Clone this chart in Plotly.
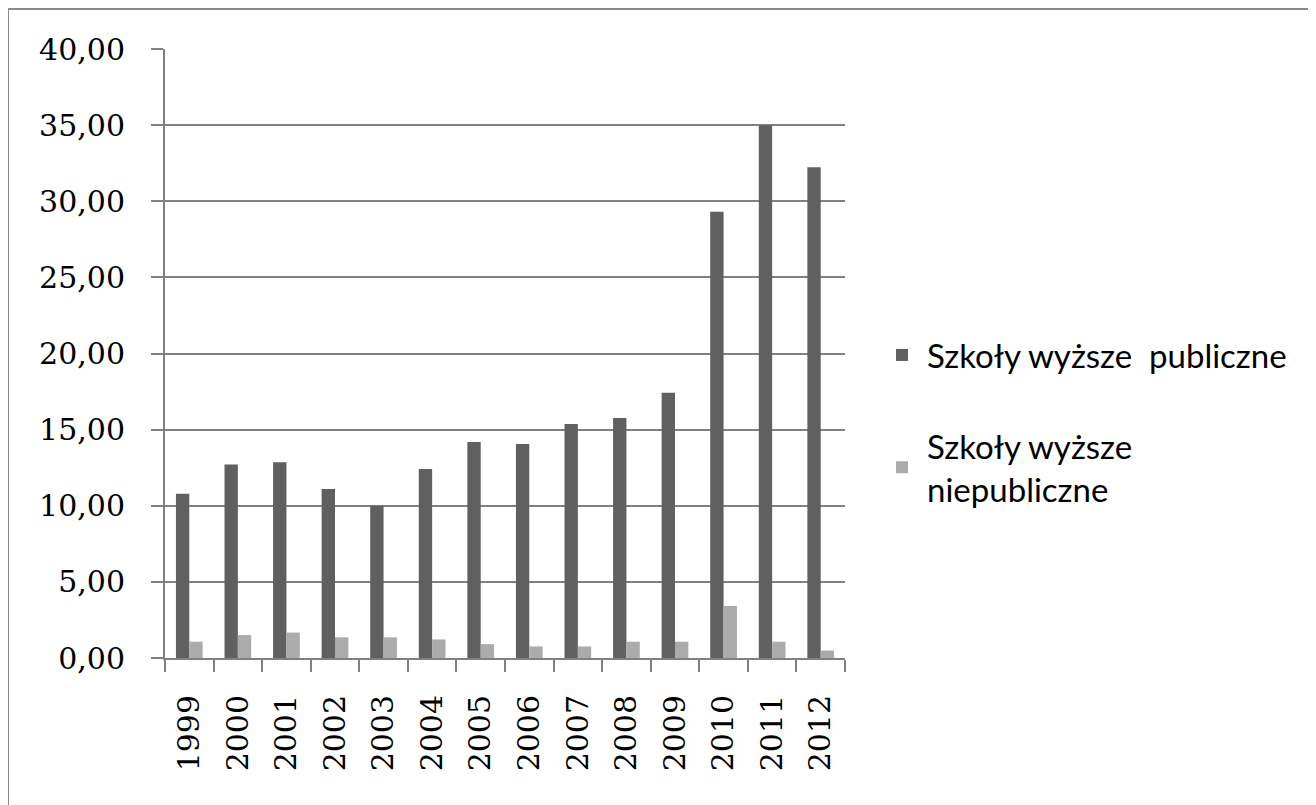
import plotly.graph_objects as go

years = ["1999", "2000", "2001", "2002", "2003", "2004", "2005", "2006",
         "2007", "2008", "2009", "2010", "2011", "2012"]
publiczne = [10.79, 12.71, 12.86, 11.10, 10.00, 12.42, 14.18, 14.05,
             15.37, 15.77, 17.42, 29.31, 35.00, 32.23]
niepubliczne = [1.07, 1.51, 1.67, 1.36, 1.36, 1.22, 0.91, 0.76,
                0.76, 1.07, 1.07, 3.42, 1.07, 0.49]
y_ticks = [0, 5, 10, 15, 20, 25, 30, 35, 40]

W, H = 1316, 805
OFF = 8  # page body margin
L, R, T, B = 165 - OFF, 845 - OFF, 49 - OFF, 658 - OFF
pw, ph = R - L, B - T

fig = go.Figure()
fig.add_trace(go.Bar(x=years, y=publiczne, name="Szkoły wyższe  publiczne",
                     marker=dict(color="#606060", line=dict(width=0)),
                     legendgroup="a"))
fig.add_trace(go.Bar(x=years, y=niepubliczne, name="Szkoły wyższe<br>niepubliczne",
                     marker=dict(color="#ababab", line=dict(width=0)),
                     legendgroup="b"))

fig.update_layout(
    width=W, height=H,
    margin=dict(l=L, r=W - R, t=T, b=H - B, pad=0),
    paper_bgcolor="white", plot_bgcolor="white",
    barmode="group", bargap=0.45, bargroupgap=0,
    separators=", ",
    showlegend=True,
    legend=dict(x=(877 - OFF - L) / pw, xanchor="left",
                y=(B - (327 - OFF)) / ph, yanchor="top",
                font=dict(family="Lato", size=33, color="black"),
                itemwidth=40,
                tracegroupgap=45, traceorder="grouped",
                bgcolor="rgba(0,0,0,0)"),
    xaxis=dict(type="category", tickangle=-90,
               tickfont=dict(family="DejaVu Serif", size=30, color="black"),
               showline=True, linecolor="#808080", linewidth=2,
               ticks="outside", ticklen=12, tickcolor="#808080", tickwidth=2,
               tickson="boundaries", ticklabelstandoff=23,
               showgrid=False, zeroline=False),
    yaxis=dict(range=[0, 40], tickvals=y_ticks, tickformat=".2f",
               tickfont=dict(family="DejaVu Serif", size=30, color="black"),
               showline=True, linecolor="#808080", linewidth=2,
               ticks="outside", ticklen=12, tickcolor="#808080", tickwidth=2,
               ticklabelstandoff=20,
               showgrid=True, gridcolor="#808080", gridwidth=2,
               zeroline=False),
    shapes=[dict(type="rect", xref="paper", yref="paper",
                 x0=(8 - OFF - L) / pw, x1=(W + 20 - L) / pw,
                 y0=(B - (H + 20)) / ph, y1=(B - (9 - OFF)) / ph,
                 line=dict(color="#8a8a8a", width=2), layer="below")],
)

fig.write_html("out.html")
